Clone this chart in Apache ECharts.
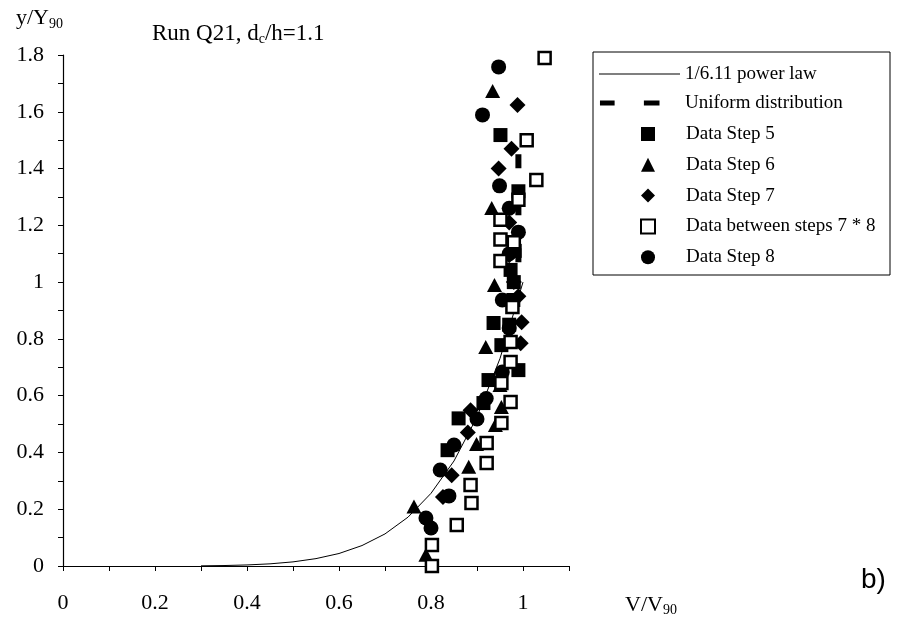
<!DOCTYPE html>
<html>
<head>
<meta charset="utf-8">
<script src="https://cdn.jsdelivr.net/npm/echarts@6/dist/echarts.min.js"></script>
<style>html,body{margin:0;padding:0;background:#fff}#c{width:898px;height:619px}</style>
</head>
<body>
<div id="c"></div>
<script>
// ---- data (V/V90, y/Y90) ----
var xTicks = [0, 0.2, 0.4, 0.6, 0.8, 1];
var yTicks = [0, 0.2, 0.4, 0.6, 0.8, 1, 1.2, 1.4, 1.6, 1.8];
var powerLaw = [[0.30,0.0006],[0.35,0.0016],[0.40,0.0037],[0.45,0.0076],[0.50,0.0145],[0.55,0.026],[0.60,0.044],[0.65,0.072],[0.70,0.113],[0.75,0.172],[0.80,0.256],[0.85,0.370],[0.90,0.525],[0.95,0.731],[1.00,1.00]];
var uniform = [[0.99,1.45],[0.99,1.0]];
var step5 = [[0.951,1.518],[0.99,1.32],[0.982,1.11],[0.973,1.043],[0.98,1.0],[0.979,0.937],[0.936,0.856],[0.97,0.85],[0.953,0.778],[0.99,0.69],[0.925,0.655],[0.914,0.574],[0.86,0.52],[0.836,0.408]];
var step6 = [[0.934,1.673],[0.932,1.261],[0.938,0.99],[0.919,0.771],[0.95,0.638],[0.953,0.56],[0.94,0.497],[0.899,0.43],[0.882,0.35],[0.763,0.21],[0.789,0.04]];
var step7 = [[0.988,1.624],[0.975,1.47],[0.947,1.40],[0.97,1.21],[0.97,1.095],[0.98,1.0],[0.99,0.95],[0.997,0.859],[0.995,0.785],[0.886,0.549],[0.88,0.47],[0.845,0.32],[0.826,0.243]];
var step8 = [[0.947,1.758],[0.912,1.589],[0.949,1.339],[0.97,1.26],[0.99,1.176],[0.97,1.10],[0.955,0.937],[0.97,0.838],[0.955,0.683],[0.92,0.59],[0.9,0.518],[0.85,0.426],[0.82,0.338],[0.839,0.247],[0.789,0.169],[0.80,0.134]];
var between78 = [[1.047,1.789],[1.008,1.50],[1.029,1.36],[0.99,1.29],[0.951,1.22],[0.951,1.15],[0.98,1.14],[0.951,1.074],[0.977,0.912],[0.973,0.789],[0.973,0.719],[0.953,0.645],[0.973,0.578],[0.953,0.504],[0.921,0.433],[0.921,0.363],[0.886,0.285],[0.888,0.222],[0.856,0.144],[0.802,0.074],[0.802,0.0]];
var seriesNames = ['1/6.11 power law','Uniform distribution','Data Step 5','Data Step 6','Data Step 7','Data between steps 7 * 8','Data Step 8'];

var FONT = '"Liberation Serif", "DejaVu Serif", serif';
var chart = echarts.init(document.getElementById('c'), null, {renderer:'canvas'});
function axisBase(min, max){
  return {type:'value', min:min, max:max, interval:0.2, splitLine:{show:false}};
}
// legend icons (item box 83 x 14)
var lineIcon = 'path://M0,0L0.01,0L0.01,0.01Z M0,6.5L83,6.5L83,7.6L0,7.6Z M82.99,13.99L83,13.99L83,14Z';
var dashIcon = 'path://M0,0L0.01,0L0.01,0.01Z M1,4.5L16,4.5L16,9.5L1,9.5Z M46,4.5L62,4.5L62,9.5L46,9.5Z M82.99,13.99L83,13.99L83,14Z';
var SUB = {fontFamily:FONT, fontSize:14, verticalAlign:'bottom', padding:[11,0,0,0], color:'#000'};
var option = {
  backgroundColor:'#fff',
  animation:false,
  textStyle:{fontFamily:FONT, color:'#000'},
  title:{
    text:'Run Q21, d{sub|c}/h=1.1', left:147, top:16,
    textStyle:{fontFamily:FONT, fontSize:23, fontWeight:'normal', color:'#000', rich:{sub:SUB}}
  },
  grid:{left:63, top:55, width:506, height:511},
  xAxis:[
    Object.assign(axisBase(0,1.1),{
      axisLine:{lineStyle:{color:'#000', width:1.2}},
      axisTick:{inside:false, length:5, lineStyle:{color:'#000'}},
      minorTick:{show:true, splitNumber:2, length:5, lineStyle:{color:'#000'}},
      axisLabel:{margin:26, fontSize:22, fontFamily:FONT, color:'#000', showMaxLabel:false},
      name:'V/V{sub|90}', nameLocation:'end', nameGap:56,
      nameTextStyle:{fontFamily:FONT, fontSize:22, color:'#000', align:'left', padding:[78,0,0,0], rich:{sub:SUB}}
    }),
    Object.assign(axisBase(0,1.1),{
      axisLine:{show:false},
      axisTick:{inside:true, length:5, lineStyle:{color:'#000'}},
      axisLabel:{show:false}
    })
  ],
  yAxis:[
    Object.assign(axisBase(0,1.8),{
      axisLine:{lineStyle:{color:'#000', width:1.2}},
      axisTick:{inside:false, length:5, lineStyle:{color:'#000'}},
      minorTick:{show:true, splitNumber:2, length:5, lineStyle:{color:'#000'}},
      axisLabel:{margin:19, fontSize:22, fontFamily:FONT, color:'#000'},
      name:'y/Y{sub|90}', nameLocation:'end', nameGap:24,
      nameTextStyle:{fontFamily:FONT, fontSize:22, color:'#000', align:'right', padding:[0,0,0,0], rich:{sub:SUB}}
    }),
    Object.assign(axisBase(0,1.8),{
      axisLine:{show:false},
      axisTick:{inside:true, length:5, lineStyle:{color:'#000'}},
      axisLabel:{show:false}
    })
  ],
  legend:[
    {
      data:[{name:seriesNames[0], icon:lineIcon}, {name:seriesNames[1], icon:dashIcon}],
      orient:'vertical', left:599, top:64, padding:0, itemWidth:81, itemHeight:14, itemGap:9,
      textStyle:{fontFamily:FONT, fontSize:19, lineHeight:20, color:'#000'}
    },
    {
      data:[seriesNames[2], seriesNames[3], seriesNames[4], seriesNames[5], seriesNames[6]],
      orient:'vertical', left:640, top:124, padding:0, itemWidth:14, itemHeight:14, itemGap:10.8,
      textStyle:{fontFamily:FONT, fontSize:19, lineHeight:20, color:'#000', padding:[0,0,0,26]}
    }
  ],
  graphic:[
    {type:'rect', shape:{x:593, y:52, width:297, height:223}, style:{fill:'none', stroke:'#000', lineWidth:1}, silent:true},
    {type:'text', left:861, top:566, style:{text:'b)', font:'28px "Liberation Sans", Arial, sans-serif', fill:'#000'}}
  ],
  series:[
    {name:seriesNames[0], type:'line', data:powerLaw, showSymbol:false, symbol:'none',
      lineStyle:{color:'#000', width:1}, itemStyle:{color:'#000'}, z:2},
    {name:seriesNames[1], type:'line', data:uniform, showSymbol:false, symbol:'none',
      lineStyle:{color:'#000', width:6, type:[14,33]}, itemStyle:{color:'#000'}, z:2},
    {name:seriesNames[2], type:'scatter', data:step5, symbol:'rect', symbolSize:14,
      itemStyle:{color:'#000', opacity:1}, z:3},
    {name:seriesNames[3], type:'scatter', data:step6, symbol:'triangle', symbolSize:[15,14],
      itemStyle:{color:'#000', opacity:1}, z:3},
    {name:seriesNames[4], type:'scatter', data:step7, symbol:'diamond', symbolSize:16,
      itemStyle:{color:'#000', opacity:1}, z:3},
    {name:seriesNames[6], type:'scatter', data:step8, symbol:'circle', symbolSize:15,
      itemStyle:{color:'#000', opacity:1}, z:3},
    {name:seriesNames[5], type:'scatter', data:between78, symbol:'rect', symbolSize:12,
      itemStyle:{color:'#fff', borderColor:'#000', borderWidth:2.5, opacity:1}, z:4}
  ]
};
chart.setOption(option);
</script>
</body>
</html>
